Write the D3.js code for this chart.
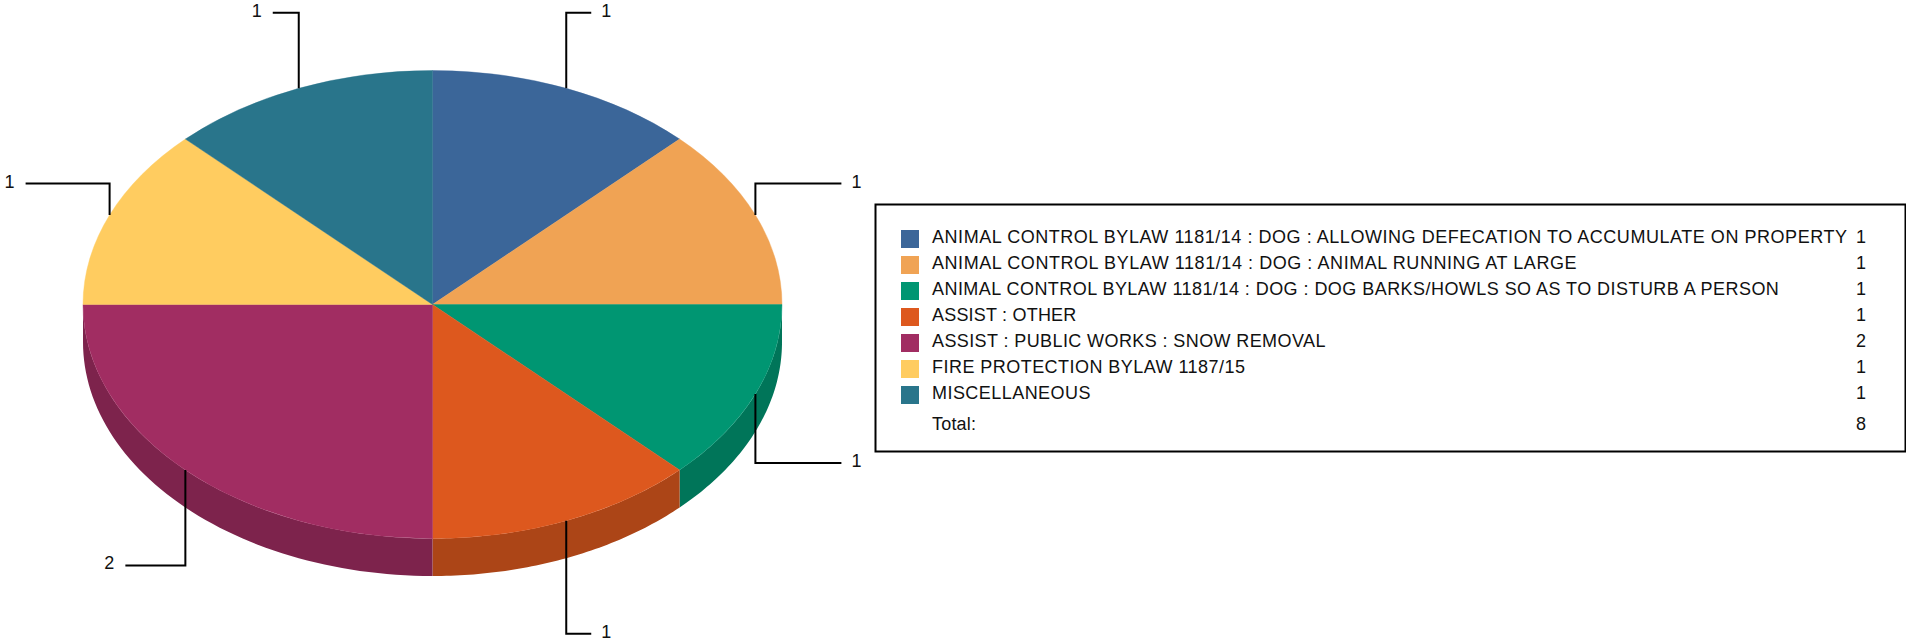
<!DOCTYPE html>
<html>
<head>
<meta charset="utf-8">
<script src="https://cdn.jsdelivr.net/npm/d3@7"></script>
<style>
  html, body { margin: 0; padding: 0; background: #fff; }
  text { font-family: "Liberation Sans", Arial, sans-serif; fill: #111; }
</style>
</head>
<body>
<div id="chart"></div>
<script>
// donnees
const categories = [
  "ANIMAL CONTROL BYLAW 1181/14 : DOG : ALLOWING DEFECATION TO ACCUMULATE ON PROPERTY",
  "ANIMAL CONTROL BYLAW 1181/14 : DOG : ANIMAL RUNNING AT LARGE",
  "ANIMAL CONTROL BYLAW 1181/14 : DOG : DOG BARKS/HOWLS SO AS TO DISTURB A PERSON",
  "ASSIST : OTHER",
  "ASSIST : PUBLIC WORKS : SNOW REMOVAL",
  "FIRE PROTECTION BYLAW 1187/15",
  "MISCELLANEOUS"
];
const values = [1, 1, 1, 1, 2, 1, 1];
const colors = ["#3b6699", "#f0a354", "#009672", "#dd581e", "#a12d62", "#ffcc60", "#29758b"];
const totalLabel = "Total:";

// longueur du trait horizontal de chaque etiquette
const leaderRun = [25, 86, 86, 25, 60, 84, 26];
// espacement des lettres ligne par ligne, la reference n'est pas reguliere
const legendSpacing = [0.54, 0.56, 0.45, 0.2, 0.4, 0.46, 0.45];

const width = 1906, height = 640;
const cx = 432.5, cy = 304.5, rx = 349.5, ry = 234, depth = 37.5;
const fontSize = 18;

const svg = d3.select("#chart").append("svg")
  .attr("width", width).attr("height", height)
  .style("display", "block");

const pie = d3.pie().sort(null).value(d => d);
const slices = pie(values);
const arc = d3.arc().innerRadius(0).outerRadius(1);

// point sur le bord de l'ellipse, angle depuis le haut
const ex = a => cx + rx * Math.sin(a);
const ey = a => cy - ry * Math.cos(a);

// flancs : seulement la moitie avant (90 a 270 degres)
const wallLine = d3.line();
slices.forEach((s, i) => {
  const a0 = Math.max(s.startAngle, Math.PI / 2);
  const a1 = Math.min(s.endAngle, 3 * Math.PI / 2);
  if (a1 <= a0) return;
  const steps = d3.range(0, 61).map(k => a0 + (a1 - a0) * k / 60);
  const top = steps.map(a => [ex(a), ey(a)]);
  const bottom = steps.slice().reverse().map(a => [ex(a), ey(a) + depth]);
  svg.append("path")
    .attr("d", wallLine(top.concat(bottom)) + "Z")
    .attr("fill", d3.color(colors[i]).darker(0.7));
});

// dessus du camembert
svg.append("g")
  .attr("transform", `translate(${cx},${cy}) scale(${rx},${ry})`)
  .selectAll("path")
  .data(slices)
  .join("path")
  .attr("d", arc)
  .attr("fill", (d, i) => colors[i])
  .attr("stroke", (d, i) => colors[i])
  .attr("stroke-width", 0.4)
  .attr("vector-effect", "non-scaling-stroke");

// etiquettes avec trait coude
slices.forEach((s, i) => {
  const mid = (s.startAngle + s.endAngle) / 2;
  const x0 = ex(mid), y0 = ey(mid);
  const right = Math.sin(mid) > 0;
  const lower = Math.cos(mid) < 0;
  const y1 = cy - 1.35 * ry * Math.cos(mid) + (lower ? depth : 0);
  const x2 = x0 + (right ? leaderRun[i] : -leaderRun[i]);
  svg.append("path")
    .attr("d", d3.line()([[x0, y0], [x0, y1], [x2, y1]]))
    .attr("fill", "none")
    .attr("stroke", "#000")
    .attr("stroke-width", 2);
  svg.append("text")
    .attr("x", x2 + (right ? 10 : -11))
    .attr("y", y1 + 4)
    .attr("text-anchor", right ? "start" : "end")
    .attr("font-size", fontSize)
    .text(values[i]);
});

// legende
const legend = svg.append("g");
legend.append("rect")
  .attr("x", 875.5).attr("y", 204.5)
  .attr("width", 1030).attr("height", 247)
  .attr("fill", "#fff")
  .attr("stroke", "#000")
  .attr("stroke-width", 2);

const rowY = d3.scaleLinear().domain([0, 1]).range([230, 256]);

categories.forEach((c, i) => {
  legend.append("rect")
    .attr("x", 901).attr("y", rowY(i))
    .attr("width", 18).attr("height", 18)
    .attr("fill", colors[i]);
  legend.append("text")
    .attr("x", 932).attr("y", rowY(i) + 12.6)
    .attr("font-size", fontSize)
    .attr("letter-spacing", legendSpacing[i])
    .text(c);
  legend.append("text")
    .attr("x", 1856).attr("y", rowY(i) + 12.6)
    .attr("font-size", fontSize)
    .text(values[i]);
});

legend.append("text")
  .attr("x", 932).attr("y", 430)
  .attr("font-size", fontSize)
  .attr("letter-spacing", 0.2)
  .text(totalLabel);
legend.append("text")
  .attr("x", 1856).attr("y", 430)
  .attr("font-size", fontSize)
  .text(d3.sum(values));
</script>
</body>
</html>
